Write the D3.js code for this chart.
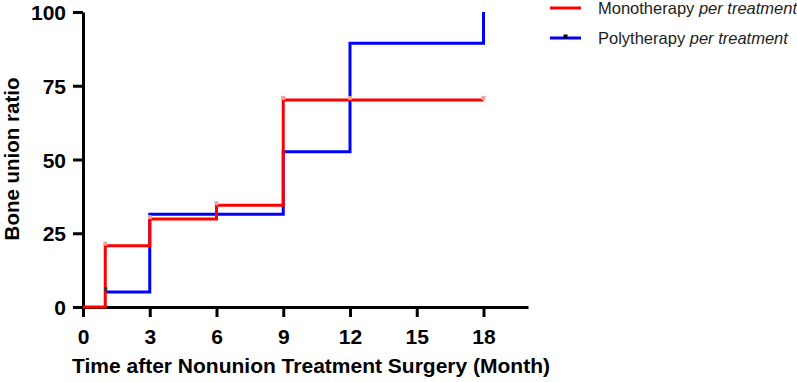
<!DOCTYPE html>
<html>
<head>
<meta charset="utf-8">
<script src="https://cdn.jsdelivr.net/npm/d3@7"></script>
<style>
  body { margin: 0; background: #fff; }
  text { font-family: "Liberation Sans", Arial, sans-serif; }
</style>
</head>
<body>
<div id="chart"></div>
<script>
// step data
var monoTimes = [0, 1, 3, 6, 9, 18];
var monoValues = [0, 20.8, 29.8, 34.5, 70.2, 70.2];
var monoCensorTimes = [1, 3, 6, 9, 12, 18];
var monoCensorValues = [20.8, 29.8, 34.5, 70.2, 70.2, 70.2];

var polyTimes = [1, 3, 9, 12, 18, 18];
var polyValues = [5.1, 31.4, 52.6, 89.4, 89.4, 100];
var polyCensorTimes = [1];
var polyCensorValues = [5.1];

var xTicks = [0, 3, 6, 9, 12, 15, 18];
var yTicks = [0, 25, 50, 75, 100];
var seriesNames = ["Monotherapy", "Polytherapy"];

var width = 797, height = 382;
var margin = { left: 83, top: 12, right: 269, bottom: 75 };

var svg = d3.select("#chart").append("svg")
  .attr("width", width)
  .attr("height", height);

var x = d3.scaleLinear().domain([0, 20]).range([margin.left, width - margin.right]);
var y = d3.scaleLinear().domain([0, 100]).range([height - margin.bottom, margin.top]);

// axes
var xAxis = svg.append("g")
  .attr("transform", "translate(0," + y(0) + ")")
  .call(d3.axisBottom(x).tickValues(xTicks).tickSize(10).tickPadding(12).tickSizeOuter(0));
var yAxis = svg.append("g")
  .attr("transform", "translate(" + x(0) + ",0)")
  .call(d3.axisLeft(y).tickValues(yTicks).tickSize(10).tickPadding(7).tickSizeOuter(0));

[xAxis, yAxis].forEach(function(g) {
  g.select(".domain").attr("stroke", "#000").attr("stroke-width", 3);
  g.selectAll(".tick line").attr("stroke", "#000").attr("stroke-width", 3);
  g.selectAll(".tick text")
    .attr("fill", "#000")
    .style("font-family", "'Liberation Sans', Arial, sans-serif")
    .style("font-weight", "bold")
    .style("font-size", "21px");
});
yAxis.selectAll(".tick text").attr("dy", "0.36em");

// axis titles
svg.append("text")
  .attr("x", 311)
  .attr("y", 373)
  .attr("text-anchor", "middle")
  .style("font-weight", "bold")
  .style("font-size", "21px")
  .text("Time after Nonunion Treatment Surgery (Month)");

svg.append("text")
  .attr("transform", "translate(19," + 159 + ") rotate(-90)")
  .attr("text-anchor", "middle")
  .style("font-weight", "bold")
  .style("font-size", "20.5px")
  .text("Bone union ratio");

var line = d3.line()
  .x(function(d) { return x(d[0]); })
  .y(function(d) { return y(d[1]); })
  .curve(d3.curveStepAfter);

var polyData = d3.zip(polyTimes, polyValues);
var monoData = d3.zip(monoTimes, monoValues);

svg.append("path")
  .datum(polyData)
  .attr("fill", "none")
  .attr("stroke", "#0000ff")
  .attr("stroke-width", 3)
  .attr("d", line);

svg.append("path")
  .datum(monoData)
  .attr("fill", "none")
  .attr("stroke", "#ff0000")
  .attr("stroke-width", 3)
  .attr("d", line);

// censor marks
svg.selectAll(".mono-censor")
  .data(d3.zip(monoCensorTimes, monoCensorValues))
  .enter().append("rect")
  .attr("class", "mono-censor")
  .attr("x", function(d) { return x(d[0]) - 2; })
  .attr("y", function(d) { return y(d[1]) - 4; })
  .attr("width", 4)
  .attr("height", 4)
  .attr("fill", "#f4a0a0");

svg.selectAll(".poly-censor")
  .data(d3.zip(polyCensorTimes, polyCensorValues))
  .enter().append("rect")
  .attr("class", "poly-censor")
  .attr("x", function(d) { return x(d[0]) - 1; })
  .attr("y", function(d) { return y(d[1]) - 5; })
  .attr("width", 3)
  .attr("height", 4)
  .attr("fill", "#333");

// legend
var legendColors = ["#ff0000", "#0000ff"];
var legend = svg.selectAll(".legend")
  .data(seriesNames)
  .enter().append("g")
  .attr("class", "legend")
  .attr("transform", function(d, i) { return "translate(550," + (8 + i * 30) + ")"; });

legend.append("line")
  .attr("x1", 0).attr("x2", 31)
  .attr("stroke", function(d, i) { return legendColors[i]; })
  .attr("stroke-width", 3);

legend.filter(function(d, i) { return i === 1; })
  .append("rect")
  .attr("x", 13.5).attr("y", -3.5)
  .attr("width", 4).attr("height", 4)
  .attr("fill", "#000");

var lt = legend.append("text")
  .attr("x", 48)
  .attr("y", 6)
  .attr("fill", "#222")
  .style("font-size", "16.5px");
lt.append("tspan").text(function(d) { return d + " "; });
lt.append("tspan").style("font-style", "italic").text("per treatment");
</script>
</body>
</html>
